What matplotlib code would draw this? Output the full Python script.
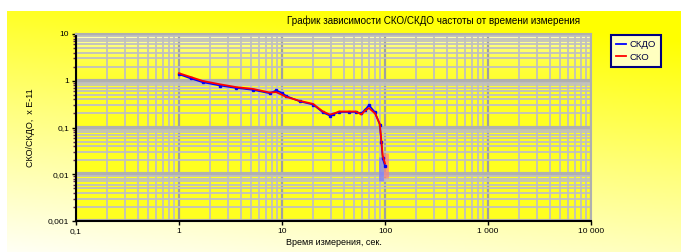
import numpy as np
import matplotlib
matplotlib.use('Agg')
import matplotlib.pyplot as plt
from matplotlib.colors import LinearSegmentedColormap
from matplotlib.lines import Line2D
from matplotlib.ticker import LogLocator, FixedLocator, FixedFormatter, NullFormatter

plt.rcParams['font.family'] = ['Liberation Sans', 'DejaVu Sans']

# measurement time, s
t = [1, 1.3, 1.7, 2.5, 3.6, 5.2, 7.6, 8.8, 10, 11, 15, 20, 25, 29, 31, 36, 45,
     52, 59, 64, 70, 80, 89, 92, 95, 100]
# СКДО (blue) and СКО (red), x E-11
ckdo = [1.38, 1.12, 0.93, 0.79, 0.70, 0.64, 0.54, 0.62, 0.55, 0.47, 0.36, 0.31,
        0.21, 0.18, 0.19, 0.215, 0.215, 0.215, 0.20, 0.24, 0.30, 0.21, 0.115,
        0.05, 0.022, 0.015]
cko = [1.45, 1.20, 0.99, 0.84, 0.73, 0.67, 0.56, 0.57, 0.50, 0.45, 0.37, 0.32,
       0.22, 0.19, 0.195, 0.22, 0.22, 0.22, 0.19, 0.23, 0.26, 0.20, 0.12,
       0.055, 0.025, 0.017]
# error bands at the last point: (t, low, high)
ckdo_band = (92, 0.0072, 0.023)
cko_band = (103, 0.0085, 0.029)

xticks = [0.1, 1, 10, 100, 1000, 10000]
xtick_labels = ['0,1', '1', '10', '100', '1 000', '10 000']
yticks = [0.001, 0.01, 0.1, 1, 10]
ytick_labels = ['0,001', '0,01', '0,1', '1', '10']

W, H = 681, 252
fig = plt.figure(figsize=(W / 100, H / 100), dpi=100)
fig.patch.set_facecolor('white')

# chart area gradient (yellow top-right -> near white bottom-left)
bg = fig.add_axes([7 / W, 0, 1 - 7 / W, 1 - 11 / H])
bg.set_axis_off()
yy, xx = np.mgrid[0:1:200j, 0:1:300j]
g = np.clip(0.85 * yy + 0.25 * (1 - xx) - 0.1, 0, 1)
cm_bg = LinearSegmentedColormap.from_list('bg', ['#ffff00', '#ffff80', '#fffff4'])
bg.imshow(g, cmap=cm_bg, aspect='auto', extent=[0, 1, 1, 0], vmin=0, vmax=1)
bg.set_xlim(0, 1)
bg.set_ylim(1, 0)

ax = fig.add_axes([76 / W, 1 - 221 / H, (591 - 76) / W, (221 - 34) / H])
ax.set_xscale('log')
ax.set_yscale('log')

# plot area gradient
cm_pa = LinearSegmentedColormap.from_list('pa', ['#ffff20', '#ffff70', '#ffffd8'])
ax.imshow(np.linspace(0, 1, 100).reshape(-1, 1), cmap=cm_pa, aspect='auto',
          extent=[0.1, 10000, 10, 0.001], transform=ax.transData, zorder=0)
ax.set_xlim(0.1, 10000)
ax.set_ylim(0.001, 10)

ax.xaxis.set_major_locator(FixedLocator(xticks))
ax.xaxis.set_major_formatter(FixedFormatter(xtick_labels))
ax.yaxis.set_major_locator(FixedLocator(yticks))
ax.yaxis.set_major_formatter(FixedFormatter(ytick_labels))
ax.xaxis.set_minor_locator(LogLocator(base=10, subs=np.arange(2, 10), numticks=20))
ax.yaxis.set_minor_locator(LogLocator(base=10, subs=np.arange(2, 10), numticks=20))
ax.xaxis.set_minor_formatter(NullFormatter())
ax.yaxis.set_minor_formatter(NullFormatter())

ax.grid(True, which='minor', color='#c0c0c0', lw=1.3, zorder=1)
ax.grid(True, which='major', axis='x', color='#a0a0a0', lw=1.6, zorder=1)
ax.grid(True, which='major', axis='y', color='#b0b0b0', lw=3.0, zorder=1)
ax.set_axisbelow(True)

ax.tick_params(which='major', labelsize=6, length=3, width=1, color='black', pad=2)
ax.tick_params(axis='y', which='minor', length=2, width=1, color='#602060')
ax.tick_params(axis='x', which='minor', length=0)
for s in ['top', 'right']:
    ax.spines[s].set_color('#b0b0b0')
    ax.spines[s].set_linewidth(1.5)
for s in ['left', 'bottom']:
    ax.spines[s].set_color('black')
    ax.spines[s].set_linewidth(1.5)

ax.vlines(ckdo_band[0], ckdo_band[1], ckdo_band[2], color='#8080ff', lw=3.5, alpha=0.8, zorder=3)
ax.vlines(cko_band[0], cko_band[1], cko_band[2], color='#ff8080', lw=3.5, alpha=0.7, zorder=3)

ax.plot(t, ckdo, color='#0000ff', lw=1.2, marker='s', ms=2, zorder=4)
ax.plot(t, cko, color='#ff0000', lw=1.3, zorder=5)

ax.set_xlabel('Время измерения, сек.', fontsize=6.5, labelpad=2)
ax.set_ylabel('СКО/СКДО,  x E-11', fontsize=6.5, labelpad=9)

fig.text(434 / W, 1 - 21 / H, 'График зависимости СКО/СКДО частоты от времени измерения',
         fontsize=7.1, ha='center', va='center')

handles = [Line2D([], [], color='#0000ff', lw=1.3), Line2D([], [], color='#ff0000', lw=1.3)]
leg = ax.legend(handles, ['СКДО', 'СКО'], loc='upper left',
                bbox_to_anchor=(611 / W, 1 - 35 / H),
                bbox_transform=fig.transFigure, fontsize=6.8, frameon=True,
                fancybox=False, handlelength=1.0, handletextpad=0.4,
                borderpad=0.55, labelspacing=0.35, borderaxespad=0)
leg.get_frame().set_edgecolor('#000080')
leg.get_frame().set_linewidth(1.5)
leg.get_frame().set_facecolor('#ffffc0')
leg.get_frame().set_alpha(1)
for txt in leg.get_texts():
    txt.set_color('#000040')

fig.savefig('out.png', dpi=100)
